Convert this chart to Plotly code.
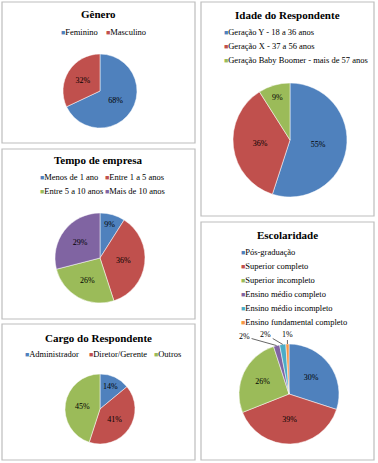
import math
import plotly.graph_objects as go

W, H = 378, 463

# ---------------- data ----------------
genero_labels = ["Feminino", "Masculino"]
genero_values = [68, 32]

tempo_labels = ["Menos de 1 ano", "Entre 1 a 5 anos", "Entre 5 a 10 anos", "Mais de 10 anos"]
tempo_values = [9, 36, 26, 29]

cargo_labels = ["Administrador", "Diretor/Gerente", "Outros"]
cargo_values = [14, 41, 45]

idade_labels = ["Geração Y - 18 a 36 anos", "Geração X - 37 a 56 anos",
                "Geração Baby Boomer - mais de 57 anos"]
idade_values = [55, 36, 9]

escol_labels = ["Pós-graduação", "Superior completo", "Superior incompleto",
                "Ensino médio completo", "Ensino médio incompleto",
                "Ensino fundamental completo"]
escol_values = [30, 39, 26, 2, 2, 1]

titles = ["Gênero", "Tempo de empresa", "Cargo do Respondente",
          "Idade do Respondente", "Escolaridade"]

COLORS = ["#4F81BD", "#C0504D", "#9BBB59", "#8064A2", "#4BACC6", "#F79646"]
FONT = "Liberation Serif"

# ---------------- layout helpers ----------------
def px(x):
    return x / W

def py(y):
    return 1 - y / H

panels = [
    # box (x0,y0,x1,y1), pie centre/radius, title y, legend entry positions
    dict(box=(2, 2, 195, 143), c=(100, 91, 37), ty=14,
         leg=[(59, 32), (104, 32)]),
    dict(box=(2, 149, 195, 319), c=(100, 258, 45), ty=160,
         leg=[(38, 177), (103, 177), (38, 191), (103, 191)]),
    dict(box=(2, 324, 195, 460), c=(100, 409, 35), ty=338,
         leg=[(23, 354), (87, 354), (152, 354)]),
    dict(box=(201, 2, 374, 216), c=(290, 140, 57), ty=15,
         leg=[(222, 32), (222, 46), (222, 60)]),
    dict(box=(201, 222, 374, 460), c=(289, 394, 50), ty=235,
         leg=[(239, 252), (239, 266), (239, 280), (239, 294), (239, 308), (239, 322)]),
]

# offsets (pixels) of the outside labels of the three thin Escolaridade slices
small_label_offsets = {3: (-32, -9), 4: (-17, -10), 5: (0, -10)}

datasets = [
    (genero_labels, genero_values),
    (tempo_labels, tempo_values),
    (cargo_labels, cargo_values),
    (idade_labels, idade_values),
    (escol_labels, escol_values),
]

fig = go.Figure()
shapes = []
annotations = []

for i, (panel, (labels, values), title) in enumerate(zip(panels, datasets, titles)):
    x0, y0, x1, y1 = panel["box"]
    shapes.append(dict(type="rect", xref="paper", yref="paper",
                       x0=px(x0), x1=px(x1), y0=py(y1), y1=py(y0),
                       line=dict(color="#BDBDBD", width=1.2),
                       fillcolor="rgba(0,0,0,0)", layer="below"))
    cx, cy, r = panel["c"]
    textpos = ["inside"] * len(values)
    if i == 4:
        textpos = ["inside" if k not in small_label_offsets else "none"
                   for k in range(len(values))]
    fig.add_trace(go.Pie(
        labels=labels, values=values,
        domain=dict(x=[px(cx - r), px(cx + r)], y=[py(cy + r), py(cy - r)]),
        sort=False, direction="clockwise", rotation=0,
        marker=dict(colors=COLORS[:len(values)], line=dict(color="white", width=0.5)),
        texttemplate="%{percent:.0%}", textposition=textpos,
        insidetextorientation="horizontal",
        textfont=dict(family=FONT, size=8, color="#000000"),
        showlegend=False, hoverinfo="label+percent",
    ))
    annotations.append(dict(
        x=px((x0 + x1) / 2), y=py(panel["ty"]), xref="paper", yref="paper",
        text="<b>%s</b>" % title, showarrow=False, xanchor="center", yanchor="middle",
        font=dict(family=FONT, size=11, color="#000000")))
    for j, (lab, (lx, ly)) in enumerate(zip(labels, panel["leg"])):
        annotations.append(dict(
            x=px(lx), y=py(ly), xref="paper", yref="paper",
            text="<span style='color:%s;font-size:7px'>■</span>%s" % (COLORS[j], lab),
            showarrow=False, xanchor="left", yanchor="middle",
            font=dict(family=FONT, size=8.5, color="#000000")))

    if i == 4:
        # leader-line labels for the thin slices, anchored at each slice's rim
        total = float(sum(values))
        cum = 0.0
        for k, v in enumerate(values):
            mid = (cum + v / 2.0) / total * 2 * math.pi
            cum += v
            if k not in small_label_offsets:
                continue
            ex = cx + r * math.sin(mid)
            ey = cy - r * math.cos(mid)
            ax, ay = small_label_offsets[k]
            annotations.append(dict(
                x=px(ex), y=py(ey), xref="paper", yref="paper",
                text="%d%%" % round(100 * v / total), showarrow=True,
                arrowhead=0, arrowwidth=0.8, arrowcolor="#404040",
                ax=ax, ay=ay, standoff=0,
                font=dict(family=FONT, size=8, color="#000000")))

fig.update_layout(
    width=W, height=H, margin=dict(l=0, r=0, t=0, b=0),
    paper_bgcolor="white", plot_bgcolor="white",
    shapes=shapes, annotations=annotations,
    font=dict(family=FONT),
)

fig.write_html("out.html", config={"displayModeBar": False},
               post_script="document.body.style.margin='0';document.body.style.padding='0';")
